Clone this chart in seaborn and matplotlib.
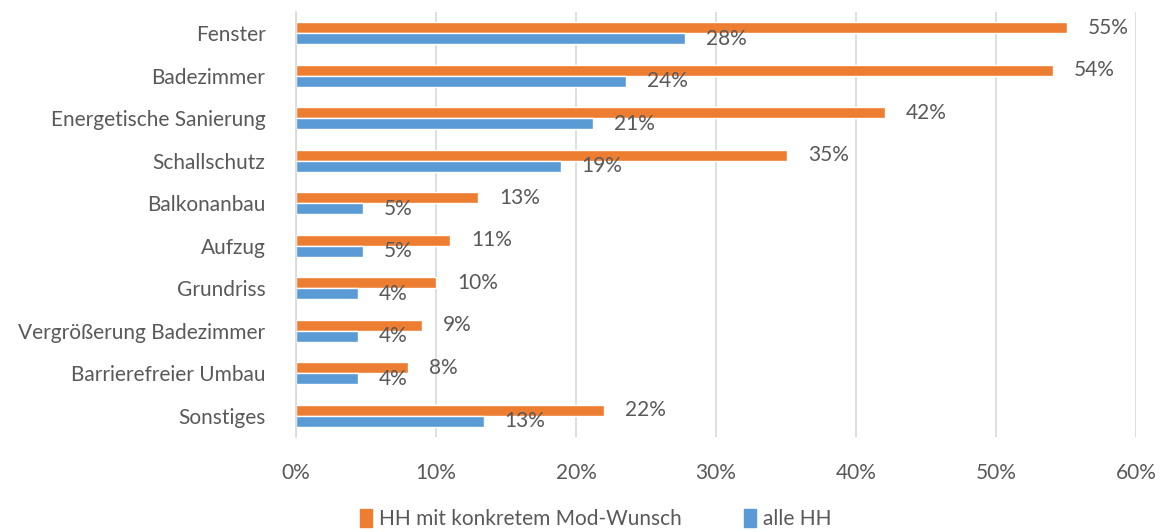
import matplotlib
matplotlib.use('Agg')
import matplotlib.pyplot as plt
import seaborn as sns
import pandas as pd

# Kategorien und Werte (in Prozent)
categories = ['Fenster', 'Badezimmer', 'Energetische Sanierung', 'Schallschutz',
              'Balkonanbau', 'Aufzug', 'Grundriss', 'Vergrößerung Badezimmer',
              'Barrierefreier Umbau', 'Sonstiges']
mod_wunsch = [55.1, 54.1, 42.1, 35.1, 13.0, 11.0, 10.0, 9.0, 8.0, 22.0]
alle_hh = [27.8, 23.6, 21.2, 18.9, 4.8, 4.8, 4.4, 4.4, 4.4, 13.4]
series_names = ['HH mit konkretem Mod-Wunsch', 'alle HH']
x_ticks = [0, 10, 20, 30, 40, 50, 60]

colors = ['#ED7D31', '#5B9BD5']
text_color = '#595959'

df = pd.DataFrame({
    'Kategorie': categories * 2,
    'Wert': mod_wunsch + alle_hh,
    'Gruppe': [series_names[0]] * len(categories) + [series_names[1]] * len(categories),
})

sns.set_style('white')
plt.rcParams['font.family'] = ['Lato', 'DejaVu Sans']

fig = plt.figure(figsize=(11.63, 5.32), dpi=100)
ax = fig.add_axes([296 / 1163, 1 - 437 / 532, 840 / 1163, 425 / 532])

sns.barplot(data=df, x='Wert', y='Kategorie', hue='Gruppe', hue_order=series_names,
            palette=colors, orient='h', width=0.52, gap=0, saturation=1,
            ax=ax, legend=False)

# Datenbeschriftungen
for cont in ax.containers:
    ax.bar_label(cont, labels=[f'{v:.0f}%' for v in cont.datavalues],
                 padding=15, fontsize=15, color=text_color)

ax.set_xlim(0, 60)
ax.set_xticks(x_ticks)
ax.set_xticklabels([f'{t}%' for t in x_ticks])
ax.set_xlabel('')
ax.set_ylabel('')
ax.xaxis.grid(True, color='#D9D9D9', linewidth=1.2)
ax.set_axisbelow(True)
for s in ['top', 'right', 'bottom']:
    ax.spines[s].set_visible(False)
ax.spines['left'].set_color('#D9D9D9')
ax.spines['left'].set_linewidth(1.2)
ax.tick_params(axis='both', length=0, labelsize=15, labelcolor=text_color)
ax.tick_params(axis='y', pad=22)
ax.tick_params(axis='x', pad=19)

# Legende unten
handles = [plt.Rectangle((0, 0), 1, 1, color=c) for c in colors]
fig.legend(handles, series_names, loc='lower center', bbox_to_anchor=(0.512, -0.03),
           ncol=2, frameon=False, fontsize=15, labelcolor=text_color,
           handlelength=0.6, handleheight=0.9, handletextpad=0.3, columnspacing=3.0)

fig.savefig('out.png', dpi=100)
